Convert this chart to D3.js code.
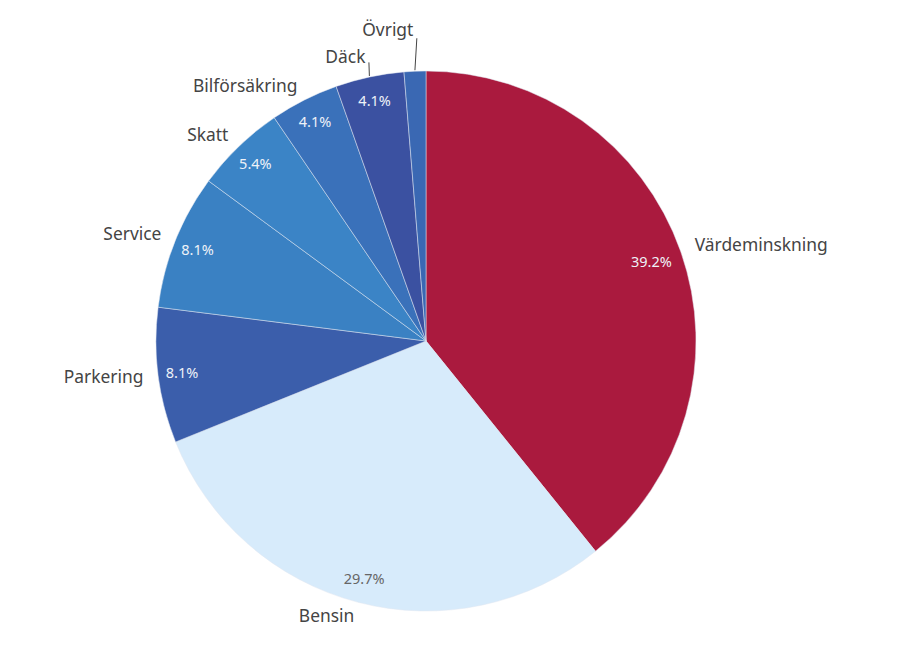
<!DOCTYPE html>
<html><head><meta charset="utf-8">
<script src="https://cdn.jsdelivr.net/npm/d3@7/dist/d3.min.js"></script>
<style>html,body{margin:0;padding:0;background:#fff;}</style>
</head><body>
<svg id="chart" width="900" height="672"></svg>
<script>
const categories = ["Värdeminskning","Bensin","Parkering","Service","Skatt","Bilförsäkring","Däck","Övrigt"];
const values = [39.2, 29.7, 8.1, 8.1, 5.4, 4.1, 4.1, 1.3];
const colors = ["#AA1A3E","#D7EBFB","#3B5EAB","#3A81C3","#3B84C6","#3A71BA","#3B51A1","#3A68B3"];
const pctLabels = ["39.2%","29.7%","8.1%","8.1%","5.4%","4.1%","4.1%",""];

const svg = d3.select("#chart");
const cx = 426, cy = 341, R = 270;
const g = svg.append("g").attr("transform",`translate(${cx},${cy})`);
const data = categories.map((c,i)=>({name:c, value:values[i], color:colors[i], pct:pctLabels[i]}));
const pie = d3.pie().sort(null).value(d=>d.value);
const arcs = pie(data);
const arc = d3.arc().innerRadius(0).outerRadius(R);

g.selectAll("path.slice").data(arcs).join("path")
  .attr("class","slice")
  .attr("d",arc)
  .attr("fill",d=>d.data.color)
  .attr("stroke","rgba(225,232,242,0.5)")
  .attr("stroke-width",1);

const font = "'Noto Sans', Roboto, sans-serif";
const pos = (a,r)=>{ const m=(a.startAngle+a.endAngle)/2; return [r*Math.sin(m), -r*Math.cos(m)]; };

// percentage labels
g.selectAll("text.pct").data(arcs.filter(d=>d.data.pct)).join("text")
  .attr("class","pct")
  .attr("x",d=>pos(d, d.index===0?239:246)[0])
  .attr("y",d=>pos(d, d.index===0?239:246)[1])
  .attr("dy","0.35em")
  .attr("text-anchor","middle")
  .attr("font-family",font)
  .attr("font-size",14.5)
  .attr("fill",d=>d.index===1?"#666":"#eef2f8")
  .text(d=>d.data.pct);

// outer labels
const labelR = d => d.data.value < 2 ? 310 : (d.index===6 ? 290 : 285);
g.selectAll("text.name").data(arcs).join("text")
  .attr("class","name")
  .attr("x",d=>pos(d,labelR(d))[0])
  .attr("y",d=>pos(d,labelR(d))[1])
  .attr("dy","0.3em")
  .attr("text-anchor",d=>{ const m=(d.startAngle+d.endAngle)/2; return m<Math.PI?"start":"end"; })
  .attr("font-family",font)
  .attr("font-size",17.4)
  .attr("fill","#444")
  .text(d=>d.data.name);

// leader lines for crowded slices
arcs.filter(d=>d.index>=6).forEach(d=>{
  const p0 = pos(d,271);
  const p1 = pos(d,labelR(d));
  g.append("line")
    .attr("x1",p0[0]).attr("y1",p0[1])
    .attr("x2",p1[0]+3.5).attr("y2",p1[1]+(d.index===6?5:7))
    .attr("stroke","#444").attr("stroke-width",1);
});
</script>
</body></html>
